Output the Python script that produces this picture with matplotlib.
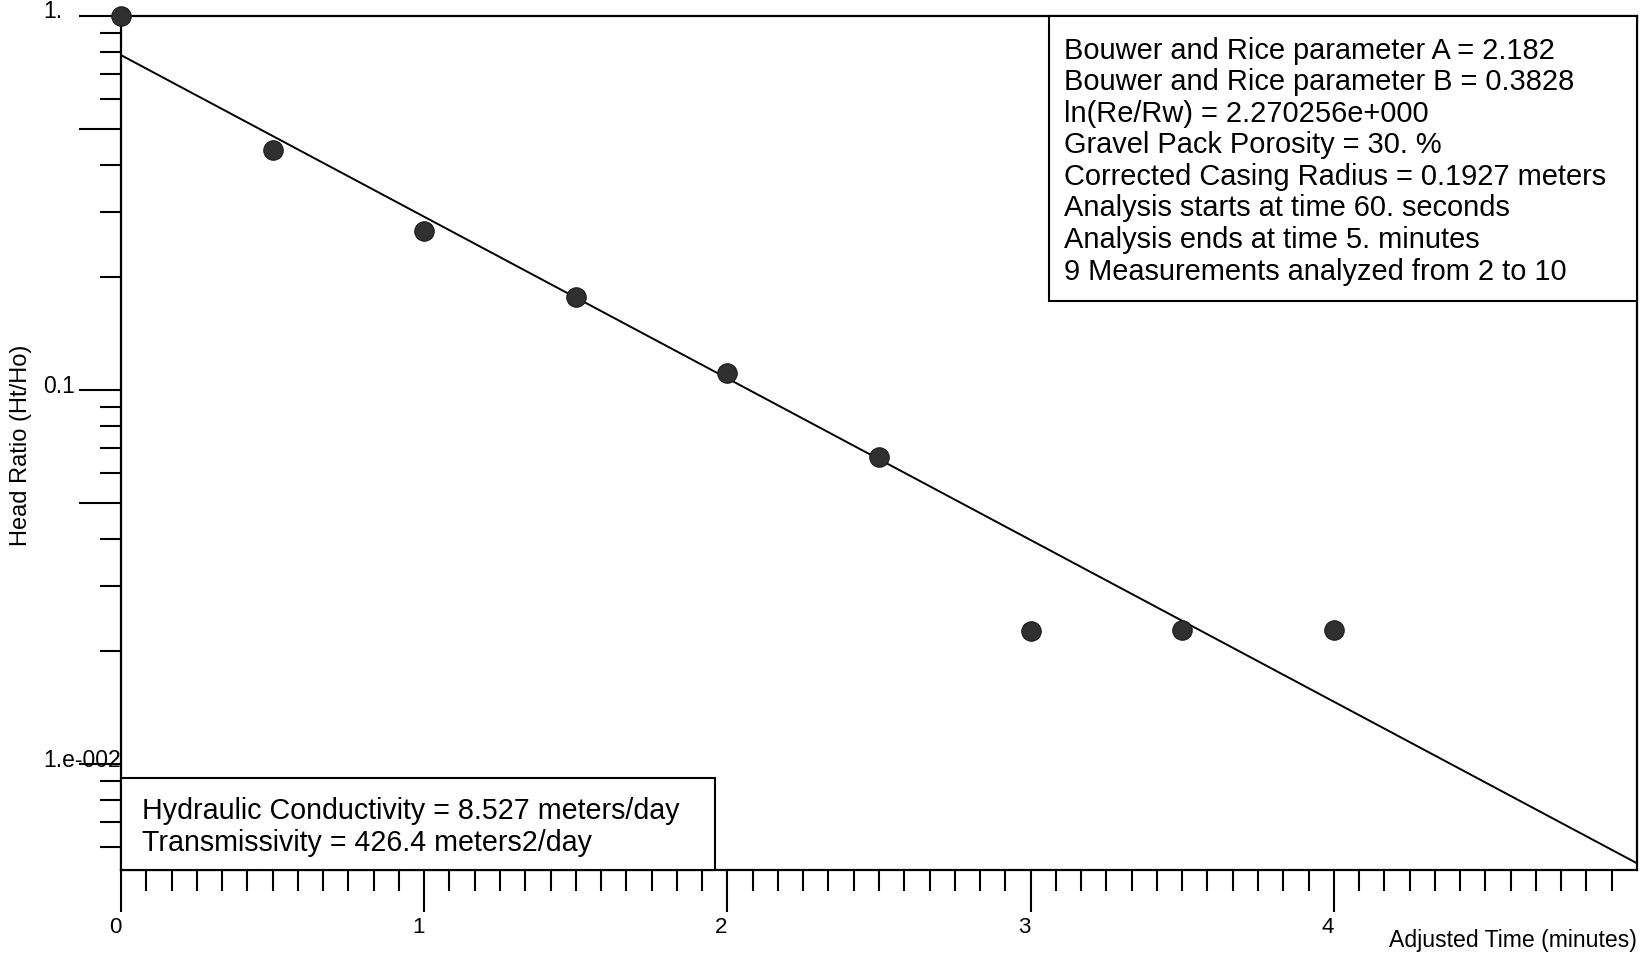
import matplotlib
matplotlib.use("Agg")
import matplotlib.pyplot as plt
from matplotlib.patches import Rectangle
from matplotlib.ticker import FixedLocator, NullFormatter
from matplotlib.transforms import ScaledTranslation, blended_transform_factory

plt.rcParams['font.family'] = ['Liberation Sans', 'DejaVu Sans']

# ---- data ----
time_min = [0.0, 0.5, 1.0, 1.5, 2.0, 2.5, 3.0, 3.5, 4.0]
head_ratio = [1.0, 0.438, 0.266, 0.177, 0.111, 0.0662, 0.0227, 0.0228, 0.0228]
fit_time = [0.0, 5.0]
fit_ratio = [0.786, 0.00543]

x_major = [0, 1, 2, 3, 4]
x_labels = ['0', '1', '2', '3', '4']
y_label_vals = [1.0, 0.1, 0.01]
y_labels = ['1.', '0.1', '1.e-002']
y_long_ticks = [1.0, 0.5, 0.1, 0.05, 0.01]

info_lines = [
    "Bouwer and Rice parameter A = 2.182",
    "Bouwer and Rice parameter B = 0.3828",
    "ln(Re/Rw) = 2.270256e+000",
    "Gravel Pack Porosity = 30. %",
    "Corrected Casing Radius = 0.1927 meters",
    "Analysis starts at time 60. seconds",
    "Analysis ends at time 5. minutes",
    "9 Measurements analyzed from 2 to 10",
]
result_lines = [
    "Hydraulic Conductivity = 8.527 meters/day",
    "Transmissivity = 426.4 meters2/day",
]

W, H = 1648, 956
fig = plt.figure(figsize=(W / 100, H / 100), dpi=100)
ax_l, ax_r, ax_t, ax_b = 121, 1637, 16, 870
ax = fig.add_axes([ax_l / W, (H - ax_b) / H, (ax_r - ax_l) / W, (ax_b - ax_t) / H])

ax.set_yscale('log')
ax.set_xlim(0, 5)
ax.set_ylim(0.00521, 1.0)

# regression line and points
ax.plot(fit_time, fit_ratio, color='black', lw=1.4, zorder=3)
ax.plot(time_min, head_ratio, 'o', ms=14, color='#303030', mec='#1a1a1a',
        mew=0.8, zorder=5, clip_on=False)

# spines
for s in ax.spines.values():
    s.set_linewidth(1.6)
    s.set_color('black')

# ticks
ax.xaxis.set_major_locator(FixedLocator(x_major))
ax.xaxis.set_minor_locator(FixedLocator([k / 12 for k in range(1, 60) if k % 12 != 0]))
ax.set_xticklabels(x_labels, fontsize=16)
ax.xaxis.set_minor_formatter(NullFormatter())
ax.tick_params(axis='x', which='major', direction='out', length=30, width=1.5, pad=4)
ax.tick_params(axis='x', which='minor', direction='out', length=15, width=1.5)
off = ScaledTranslation(-6 / 100, 0, fig.dpi_scale_trans)
for lab in ax.get_xticklabels():
    lab.set_transform(lab.get_transform() + off)

y_minor = []
for dec in [0.001, 0.01, 0.1]:
    for m in range(2, 10):
        v = m * dec
        if v not in [0.5, 0.05] and 0.0052 < v < 1.0:
            y_minor.append(v)
ax.yaxis.set_major_locator(FixedLocator(y_long_ticks))
ax.yaxis.set_minor_locator(FixedLocator(y_minor))
ax.yaxis.set_major_formatter(NullFormatter())
ax.yaxis.set_minor_formatter(NullFormatter())
ax.tick_params(axis='y', which='major', direction='out', length=30, width=1.5)
ax.tick_params(axis='y', which='minor', direction='out', length=15, width=1.5)

# y tick labels (left aligned, slightly above the tick)
tr = blended_transform_factory(fig.transFigure, ax.transData) + \
    ScaledTranslation(0, 4 / 100, fig.dpi_scale_trans)
for v, s in zip(y_label_vals, y_labels):
    ax.text(43 / W, v, s, transform=tr, ha='left', va='center', fontsize=16.5)

# axis labels
fig.text(21 / W, 1 - 445 / H, "Head Ratio (Ht/Ho)", rotation=90, ha='center',
         va='center', fontsize=17)
fig.text(1637 / W, 1 - 941 / H, "Adjusted Time (minutes)", ha='right',
         va='center', fontsize=16.6)

def fx(px):
    return (px - ax_l) / (ax_r - ax_l)

def fy(py):
    return (ax_b - py) / (ax_b - ax_t)

# info box (top right)
ax.add_patch(Rectangle((fx(1049), fy(301)), 1 - fx(1049), 1 - fy(301),
                       transform=ax.transAxes, facecolor='white',
                       edgecolor='black', lw=1.5, zorder=6, clip_on=False))
for i, line in enumerate(info_lines):
    ax.text(fx(1064), fy(51 + 31.5 * i), line, transform=ax.transAxes,
            ha='left', va='center', fontsize=20.9, zorder=7)

# result box (bottom left)
ax.add_patch(Rectangle((0, 0), fx(715), fy(778), transform=ax.transAxes,
                       facecolor='white', edgecolor='black', lw=1.5,
                       zorder=6, clip_on=False))
for i, line in enumerate(result_lines):
    ax.text(fx(142), fy(811 + 32 * i), line, transform=ax.transAxes,
            ha='left', va='center', fontsize=20.6, zorder=7)

fig.savefig("out.png", dpi=100, facecolor='white')
